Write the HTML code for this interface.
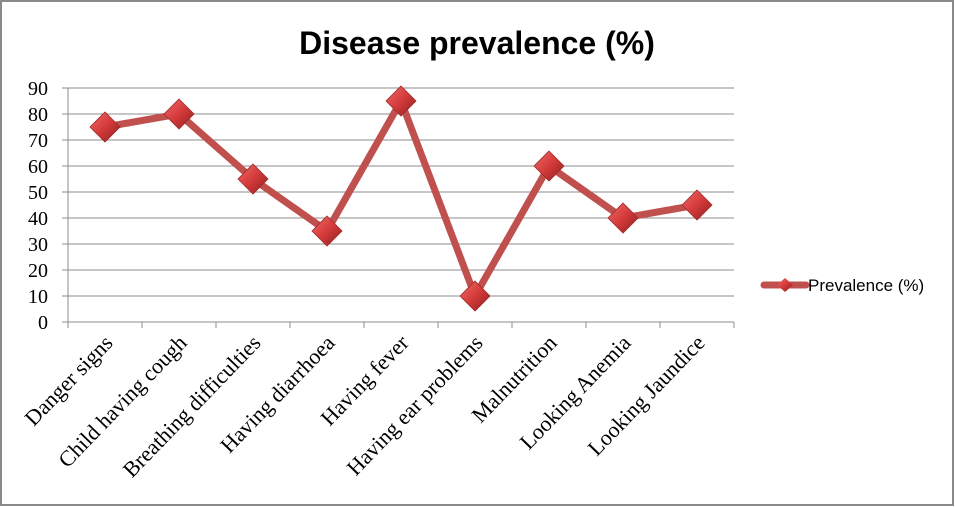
<!DOCTYPE html>
<html><head><meta charset="utf-8"><style>
body{margin:0;background:#fff}
svg{display:block}
</style></head><body>
<svg width="955" height="507">
<defs>
<linearGradient id="mg" x1="0" y1="0" x2="1" y2="1">
<stop offset="0" stop-color="#f06a6a"/><stop offset="0.5" stop-color="#d43a3a"/><stop offset="1" stop-color="#8e1f1f"/>
</linearGradient>
</defs>
<rect x="1" y="1" width="952" height="504" fill="#fff" stroke="#8a8a8a" stroke-width="2"/>
<text x="477" y="54" text-anchor="middle" font-family="Liberation Sans, sans-serif" font-weight="bold" font-size="32">Disease prevalence (%)</text>
<g id="grid"></g><g id="axes"></g><g id="series"></g>
<g>
<line x1="764" y1="285" x2="806" y2="285" stroke="#c0504d" stroke-width="7" stroke-linecap="round"/>
<path d="M785 278 L793 285 L785 292 L777 285 Z" fill="url(#mg)"/>
<text x="808" y="291" font-family="Liberation Sans, sans-serif" font-size="17">Prevalence (%)</text>
</g>
</svg>
<script>
const categories=["Danger signs","Child having cough","Breathing difficulties","Having diarrhoea","Having fever","Having ear problems","Malnutrition","Looking Anemia","Looking Jaundice"];
const values=[75,80,55,35,85,10,60,40,45];
const yTicks=[0,10,20,30,40,50,60,70,80,90];
const NS="http://www.w3.org/2000/svg";
const L=68,R=734,T=88,B=322,ymax=90;
const cw=(R-L)/categories.length;
function xs(i){return L+cw*(i+0.5);}
function ys(v){return B-(v/ymax)*(B-T);}
function mk(tag,a,p){const e=document.createElementNS(NS,tag);for(const k in a)e.setAttribute(k,a[k]);p.appendChild(e);return e;}
const grid=document.getElementById('grid'),axes=document.getElementById('axes'),ser=document.getElementById('series');
yTicks.forEach(t=>{
 const y=ys(t);
 const g=mk('line',{x1:62,x2:R,y1:y,y2:y,stroke:'#8c8c8c','stroke-width':1},grid);
 
 
 const tx=mk('text',{x:48,y:y+7,'text-anchor':'end','font-family':'Liberation Serif, serif','font-size':20},axes);
 tx.textContent=t;
 
 
});
const ax=mk('line',{x1:L,x2:L,y1:T,y2:B+6,stroke:'#8c8c8c'},axes);


for(let i=0;i<=categories.length;i++){
 const x=L+cw*i;
 const t=mk('line',{x1:x,x2:x,y1:B,y2:B+6,stroke:'#8c8c8c'},axes);
 
 
}
categories.forEach((c,i)=>{
 const x=xs(i)+9,y=B+22;
 const t=mk('text',{x:x,y:y,'text-anchor':'end','font-family':'Liberation Serif, serif','font-size':22,transform:`rotate(-46 ${x} ${y})`},axes);
 t.textContent=c;
 
 
});
const pts=values.map((v,i)=>xs(i)+','+ys(v)).join(' ');
const pl=mk('polyline',{points:pts,fill:'none',stroke:'#c0504d','stroke-width':7,'stroke-linejoin':'round'},ser);


values.forEach((v,i)=>{
 const x=xs(i),y=ys(v),s=15;
 const m=mk('path',{d:`M${x} ${y-s} L${x+s} ${y} L${x} ${y+s} L${x-s} ${y} Z`,fill:'url(#mg)',stroke:'#9e2b2b','stroke-width':0.8},ser);
 
 
});
</script>
</body></html>
